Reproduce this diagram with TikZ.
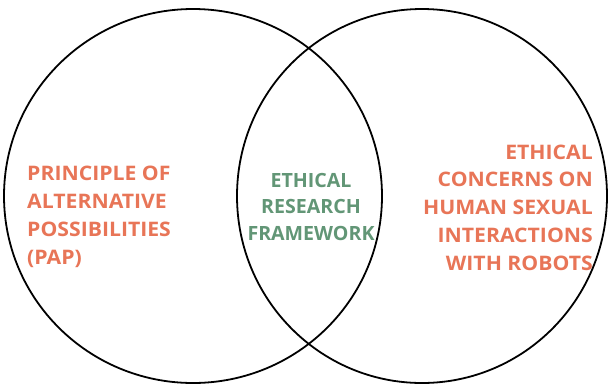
\documentclass[tikz,border=0pt]{standalone}
\usepackage{fontspec}
\setmainfont{Open Sans}
\newfontfamily\widesans[FakeStretch=1.06]{Open Sans}
\definecolor{salmon}{RGB}{232,117,87}
\definecolor{sage}{RGB}{98,150,118}
\begin{document}
\begin{tikzpicture}[x=1pt,y=-1pt,
  ring/.style={draw=black,line width=1.8pt},
  side/.style={inner sep=0pt,text=salmon,font=\widesans\bfseries\fontsize{20}{27.7}\selectfont},
  middle/.style={inner sep=0pt,text=sage,font=\bfseries\fontsize{19.6}{26.5}\selectfont}]
  \useasboundingbox (0,0) rectangle (608,384);
  \fill[white] (0,0) rectangle (608,384);
  % the two overlapping sets
  \draw[ring] (193,196) ellipse [x radius=189, y radius=187];
  \draw[ring] (422,196) ellipse [x radius=185, y radius=187];
  % labels (base anchor sits on the last line)
  \node[side,align=left,anchor=base west] (pap) at (27,264)
    {PRINCIPLE OF\\ALTERNATIVE\\POSSIBILITIES\\(PAP)};
  \node[middle,align=center,anchor=base] (erf) at (311,240)
    {ETHICAL\\RESEARCH\\FRAMEWORK};
  \node[side,align=right,anchor=base east] (robots) at (593,270)
    {ETHICAL\\CONCERNS ON\\HUMAN SEXUAL\\INTERACTIONS\\WITH ROBOTS};
\end{tikzpicture}
\end{document}
